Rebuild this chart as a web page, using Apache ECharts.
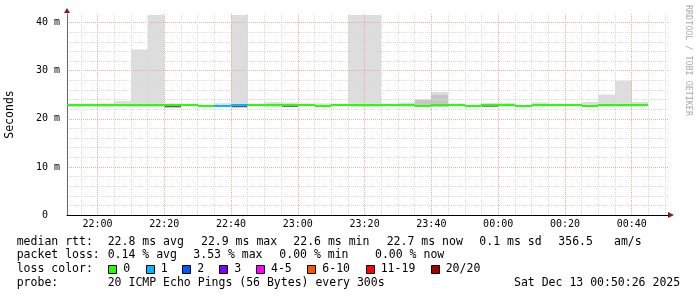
<!DOCTYPE html>
<html><head><meta charset="utf-8">
<script src="https://cdn.jsdelivr.net/npm/echarts@6/dist/echarts.min.js"></script>
<style>html,body{margin:0;padding:0;background:#fff}#c{width:697px;height:297px}</style>
</head><body><div id="c"></div>
<script>
// ---------- data ----------
const binStarts = ['21:50','21:55','22:00','22:05','22:10','22:15','22:20','22:25','22:30','22:35',
  '22:40','22:45','22:50','22:55','23:00','23:05','23:10','23:15','23:20','23:25',
  '23:30','23:35','23:40','23:45','23:50','23:55','00:00','00:05','00:10','00:15',
  '00:20','00:25','00:30','00:35','00:40'];
const binMinutes = 5;
const medianRtt = [22.85,22.8,22.85,22.85,22.85,22.85,22.9,22.85,22.65,22.75,
  22.85,22.85,22.85,22.8,22.85,22.65,22.85,22.85,22.85,22.85,
  22.85,22.75,22.8,22.85,22.7,22.9,22.8,22.65,22.85,22.85,
  22.85,22.75,22.8,22.8,22.8];
const lossCount = [0,0,0,0,0,0,0,0,0,1, 1,0,0,0,0,0,0,0,0,0, 0,0,0,0,0,0,0,0,0,0, 0,0,0,0,0];
const smokeLow = [22.45,22.45,22.35,22.45,22.45,22.45,22.4,22.7,22.55,22.45,
  22.4,22.7,22.35,22.45,22.7,22.35,22.7,22.4,22.4,22.6,
  22.55,22.45,22.45,22.6,22.55,22.5,22.5,22.55,22.6,22.6,
  22.7,22.5,22.5,22.5,22.55];
const smokeHigh = [22.95,22.95,22.95,23.7,34.4,41.6,22.95,22.95,22.8,23.25,
  41.6,23.0,23.45,23.4,23.0,23.2,23.0,41.6,41.6,23.05,
  23.4,24.1,25.6,23.15,22.95,23.3,23.3,22.85,23.4,23.1,
  23.0,23.5,25.05,27.9,23.5];
const midLow  = {21: 22.5, 22: 22.5};
const midHigh = {21: 23.95, 22: 25.0};
const darkLow  = {6: 22.4, 10: 22.4, 13: 22.5, 25: 22.55};
const darkHigh = {6: 22.65, 10: 22.65, 13: 22.62, 25: 22.7};
const xLabelTimes = ['22:00','22:20','22:40','23:00','23:20','23:40','00:00','00:20','00:40'];
const yLabelValues = [0,10,20,30,40];
const axisStart = '21:50:52';
const axisSpanMinutes = 180;

const lossNames = ['0','1','2','3','4-5','6-10','11-19','20/20'];
const rttStats = ['22.8 ms avg','22.9 ms max','22.6 ms min','22.7 ms now','0.1 ms sd','356.5','am/s'];
const lossStats = ['0.14 % avg','3.53 % max','0.00 % min','0.00 % now'];
const rowLabels = ['median rtt:','packet loss:','loss color:','probe:'];
const probeText = '20 ICMP Echo Pings (56 Bytes) every 300s';
const stampText = 'Sat Dec 13 00:50:26 2025';
const yTitle = 'Seconds';
const sideText = 'RRDTOOL / TOBI OETIKER';

// ---------- styles / layout ----------
const lossColors = ['#26ff00','#00b8ff','#0059ff','#7e00ff','#ff00ff','#ff5500','#ff0000','#a10000'];
const MONO = 'DejaVu Sans Mono';
const rttX = [107.7,201,293.3,386.7,479.3,558.3,614];
const lossX = [107.7,193.3,279.3,375];
const boxX = [108.3,145.7,182.3,219.3,256,307.3,365.7,430.7];
const rowY = [241.8,255.2,269.4,283.4];
const GRID_MINOR = '#dadada', GRID_MAJOR = '#eeaaaa';

function toMin(s){
  const p = s.split(':').map(Number);
  const h = p[0] < 12 ? p[0] + 24 : p[0];
  return h*60 + p[1] + (p[2]||0)/60;
}
const START = toMin(axisStart);
const END = START + axisSpanMinutes;
const labelMinutes = xLabelTimes.map(toMin);
const gridMinutes = [];
for (let t = Math.ceil(START/5)*5; t <= END; t += 5) gridMinutes.push(t);
function fmtTime(v){
  const h = Math.floor(v/60) % 24, m = Math.round(v % 60);
  return String(h).padStart(2,'0') + ':' + String(m).padStart(2,'0');
}

const bins = binStarts.map(toMin);
const smokeData = bins.map((s,i)=>[s, s+binMinutes, smokeLow[i], smokeHigh[i]]);
const midData = bins.map((s,i)=>[s, s+binMinutes, midLow[i], midHigh[i]]).filter(d=>d[2]!=null);
const darkData = bins.map((s,i)=>[s, s+binMinutes, darkLow[i], darkHigh[i]]).filter(d=>d[2]!=null);
const medData = bins.map((s,i)=>[s, s+binMinutes, medianRtt[i], lossCount[i]]);

function bandRender(color){
  return function(params, api){
    const s = api.value(0), e = api.value(1), lo = api.value(2), hi = api.value(3);
    const p0 = api.coord([s, hi]), p1 = api.coord([e, lo]);
    const x0 = Math.round(p0[0]), x1 = Math.round(p1[0]);
    const shape = echarts.graphic.clipRectByRect(
      {x:x0, y:p0[1], width:x1-x0, height:Math.max(p1[1]-p0[1], 0.8)},
      {x:params.coordSys.x, y:params.coordSys.y, width:params.coordSys.width, height:params.coordSys.height});
    return shape && {type:'rect', shape:shape, style:{fill:color}};
  };
}
function medRender(params, api){
  const s = api.value(0), e = api.value(1), m = api.value(2), l = api.value(3);
  const p0 = api.coord([s, m]), p1 = api.coord([e, m]);
  const x0 = Math.round(p0[0]), x1 = Math.round(p1[0]);
  const cy = Math.round(p0[1]);
  const shape = echarts.graphic.clipRectByRect(
    {x:x0, y:cy-1, width:x1-x0, height:2},
    {x:params.coordSys.x, y:params.coordSys.y, width:params.coordSys.width, height:params.coordSys.height});
  return shape && {type:'rect', shape:shape, style:{fill:lossColors[l]}};
}

const graphics = [];
const txt = (id,x,y,text,extra) => graphics.push(Object.assign({type:'text', id:id, x:x, y:y, silent:true,
  style:{text:text, font:'11.5px "'+MONO+'"', fill:'#000', textAlign:'left', textVerticalAlign:'middle'}}, extra||{}));
rowLabels.forEach((t,i)=>txt('row'+i, 16.7, rowY[i], t));
rttStats.forEach((t,i)=>txt('rtt'+i, rttX[i], rowY[0], t));
lossStats.forEach((t,i)=>txt('loss'+i, lossX[i], rowY[1], t));
lossNames.forEach((t,i)=>{
  graphics.push({type:'rect', id:'box'+i, silent:true, shape:{x:Math.round(boxX[i])+0.5, y:265.5, width:8, height:8},
    style:{fill:lossColors[i], stroke:'#000', lineWidth:1}});
  txt('ln'+i, boxX[i]+15, rowY[2], t);
});
txt('probe', 107.7, rowY[3], probeText);
txt('stamp', 514, rowY[3], stampText);
graphics.push({type:'text', id:'side', x:688, y:5, rotation:-Math.PI/2, silent:true,
  style:{text:sideText, font:'8.4px "'+MONO+'"', fill:'#aaaaaa', textAlign:'left', textVerticalAlign:'middle'}});

const chart = echarts.init(document.getElementById('c'), null, {renderer:'canvas', width:697, height:297});
chart.setOption({
  backgroundColor:'#ffffff',
  animation:false,
  grid:{left:67, right:29, top:14, bottom:82, containLabel:false, outerBoundsMode:'none'},
  xAxis:{
    type:'value', min:START, max:END,
    axisLine:{show:true, onZero:false, lineStyle:{color:'#000', width:1}},
    axisTick:{show:false, customValues:gridMinutes},
    axisLabel:{customValues:labelMinutes, formatter:fmtTime, fontFamily:MONO, fontSize:10, color:'#000', margin:4},
    splitLine:{show:true, lineStyle:{color:[GRID_MINOR,GRID_MAJOR,GRID_MINOR,GRID_MINOR], type:[1,1], width:1}}
  },
  yAxis:{
    type:'value', min:0, max:41.8, interval:2,
    name:yTitle, nameLocation:'middle', nameGap:51, nameRotate:90,
    nameTextStyle:{fontFamily:MONO, fontSize:11.5, color:'#000'},
    axisLine:{show:true, lineStyle:{color:'#666', width:1}},
    axisTick:{show:false},
    axisLabel:{formatter:v => yLabelValues.indexOf(v) < 0 ? '' : (v===0 ? '0  ' : v+' m'),
      fontFamily:MONO, fontSize:10, color:'#000', margin:7},
    splitLine:{show:true, showMaxLine:false, lineStyle:{color:[GRID_MAJOR,GRID_MINOR,GRID_MINOR,GRID_MINOR,GRID_MINOR], type:[1,1], width:1}}
  },
  series:[
    {type:'custom', z:-3, renderItem:bandRender('#dddddd'), data:smokeData, encode:{x:[0,1], y:[2,3]}, silent:true},
    {type:'custom', z:-2, renderItem:bandRender('#c6c6c6'), data:midData, encode:{x:[0,1], y:[2,3]}, silent:true},
    {type:'custom', z:-1, renderItem:bandRender('#555555'), data:darkData, encode:{x:[0,1], y:[2,3]}, silent:true},
    {type:'custom', z:5, renderItem:medRender, data:medData, encode:{x:[0,1], y:2}, silent:true}
  ],
  graphic:graphics
});
// axis arrows placed at the axis ends
const pEnd = chart.convertToPixel({gridIndex:0}, [END, 0]);
const pTop = chart.convertToPixel({gridIndex:0}, [START, 41.8]);
chart.setOption({graphic:[
  {type:'polygon', id:'arrX', silent:true, shape:{points:[[pEnd[0],pEnd[1]-3],[pEnd[0]+6,pEnd[1]],[pEnd[0],pEnd[1]+3]]}, style:{fill:'#8b1a1a'}},
  {type:'polygon', id:'arrY', silent:true, shape:{points:[[pTop[0]-3,pTop[1]-1],[pTop[0],pTop[1]-6],[pTop[0]+3,pTop[1]-1]]}, style:{fill:'#8b1a1a'}}
]});
</script></body></html>
